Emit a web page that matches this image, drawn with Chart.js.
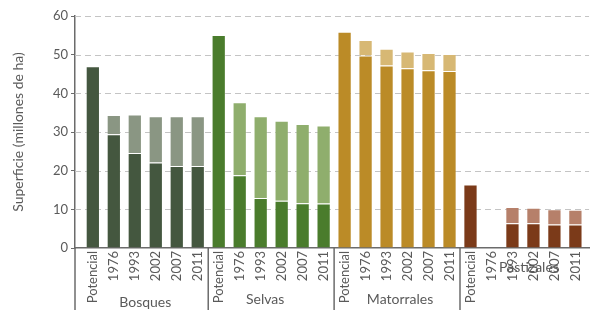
<!DOCTYPE html>
<html>
<head>
<meta charset="utf-8">
<script src="https://cdn.jsdelivr.net/npm/chart.js@4/dist/chart.umd.min.js"></script>
<style>
  html, body { margin: 0; padding: 0; background: #ffffff; }
  #wrap { width: 594px; height: 310px; position: relative; }
</style>
</head>
<body>
<div id="wrap"><canvas id="c" width="594" height="310"></canvas></div>
<script>
// ---- data ----
const categories = ["Potencial","1976","1993","2002","2007","2011",
                    "Potencial","1976","1993","2002","2007","2011",
                    "Potencial","1976","1993","2002","2007","2011",
                    "Potencial","1976","1993","2002","2007","2011"];
const groups = ["Bosques","Selvas","Matorrales","Pastizales"];
// dark (lower) portion of each bar, millones de ha
const remanente = [47.0, 29.4, 24.6, 22.1, 21.2, 21.2,
                   55.1, 18.8, 12.9, 12.2, 11.6, 11.5,
                   55.9, 49.8, 47.2, 46.5, 46.0, 45.8,
                   16.4, null, 6.4, 6.4, 6.1, 6.1];
// total height of each bar
const total = [47.0, 34.4, 34.5, 34.1, 34.1, 34.1,
               55.1, 37.7, 34.1, 32.9, 32.1, 31.7,
               55.9, 53.8, 51.5, 50.8, 50.4, 50.2,
               16.4, null, 10.6, 10.4, 10.0, 9.9];
const yTicks = [0, 10, 20, 30, 40, 50, 60];

// ---- styles ----
const darkColors  = ["#44573f", "#4a7c2c", "#bb8b27", "#7b3a19"];
const lightColors = ["#8a9683", "#8fae6d", "#d7b874", "#b6806a"];
const perGroup = 6;

const groupOf = i => Math.floor(i / perGroup);
const darkData = remanente.map((v, i) => ({ x: i, y: v }));
const lightData = total.map((t, i) => ({ x: i, y: (t == null || remanente[i] == null) ? null : +(t - remanente[i]).toFixed(2) }));

const textColor = "#5a5a5a";
const fontFamily = "Lato, 'Open Sans', sans-serif";

const groupPlugin = {
  id: "groupPlugin",
  beforeDatasetsDraw(chart) {
    // dashed horizontal grid lines
    const ctx = chart.ctx;
    const ys = chart.scales.y;
    const area = chart.chartArea;
    ctx.save();
    ctx.strokeStyle = "#c4c4c4";
    ctx.lineWidth = 1.2;
    ctx.setLineDash([6, 4]);
    yTicks.forEach(v => {
      if (v === 0) return;
      const py = Math.round(ys.getPixelForValue(v)) + 0.5;
      ctx.beginPath();
      ctx.moveTo(area.left, py);
      ctx.lineTo(area.right, py);
      ctx.stroke();
    });
    ctx.restore();
  },
  afterDraw(chart) {
    const ctx = chart.ctx;
    const xs = chart.scales.x;
    const area = chart.chartArea;
    const H = chart.height;
    ctx.save();
    ctx.strokeStyle = "#6b6b6b";
    ctx.lineWidth = 1.5;
    // y-axis extension downward + group separators
    const seps = [area.left];
    for (let g = 1; g < groups.length; g++) seps.push(xs.getPixelForValue(g * perGroup - 0.5));
    seps.forEach(px => {
      ctx.beginPath();
      ctx.moveTo(px, area.bottom);
      ctx.lineTo(px, H);
      ctx.stroke();
    });
    // group labels
    ctx.fillStyle = textColor;
    ctx.font = "14px " + fontFamily;
    ctx.textAlign = "center";
    ctx.textBaseline = "middle";
    const labelY = [302, 299, 299, 267];
    const labelDX = [0, -6, 3, 6];
    groups.forEach((g, k) => {
      const cx = xs.getPixelForValue(k * perGroup + (perGroup - 1) / 2) + labelDX[k];
      ctx.fillText(g, cx, labelY[k]);
    });
    ctx.restore();
  }
};

new Chart(document.getElementById("c"), {
  type: "bar",
  data: {
    datasets: [
      {
        label: "remanente",
        data: darkData,
        backgroundColor: remanente.map((_, i) => darkColors[groupOf(i)]),
        borderColor: "rgba(255,255,255,0.22)",
        borderWidth: 1,
        categoryPercentage: 1,
        barPercentage: 0.68
      },
      {
        label: "perdida",
        data: lightData,
        backgroundColor: total.map((_, i) => lightColors[groupOf(i)]),
        borderColor: "rgba(255,255,255,0.22)",
        borderWidth: 1,
        categoryPercentage: 1,
        barPercentage: 0.68
      }
    ]
  },
  options: {
    responsive: false,
    animation: false,
    devicePixelRatio: 1,
    layout: { padding: { top: 16, right: 0, left: 0, bottom: 0 } },
    plugins: { legend: { display: false }, tooltip: { enabled: false } },
    scales: {
      x: {
        type: "linear",
        offset: false,
        stacked: true,
        min: -0.85,
        max: 23.65,
        afterBuildTicks: s => { s.ticks = categories.map((_, i) => ({ value: i })); },
        afterFit: s => { s.height = 62; },
        grid: { display: false, drawTicks: false },
        border: { display: true, color: "#6b6b6b", width: 1.5 },
        ticks: {
          autoSkip: false,
          minRotation: 90,
          maxRotation: 90,
          padding: 3,
          color: textColor,
          font: { family: fontFamily, size: 13 },
          callback: v => categories[v]
        }
      },
      y: {
        stacked: true,
        min: 0,
        max: 60,
        afterBuildTicks: s => { s.ticks = yTicks.map(v => ({ value: v })); },
        afterFit: s => { s.width = 75; },
        grid: {
          drawOnChartArea: false,
          tickColor: "#6b6b6b",
          tickLength: 4,
          drawTicks: true
        },
        border: { display: true, color: "#6b6b6b", width: 1.5 },
        ticks: {
          padding: 3,
          color: textColor,
          font: { family: fontFamily, size: 13 }
        },
        title: {
          display: true,
          text: "Superficie (millones de ha)",
          color: textColor,
          font: { family: fontFamily, size: 14 },
          padding: { top: 10, bottom: 0 }
        }
      }
    }
  },
  plugins: [groupPlugin]
});
</script>
</body>
</html>
